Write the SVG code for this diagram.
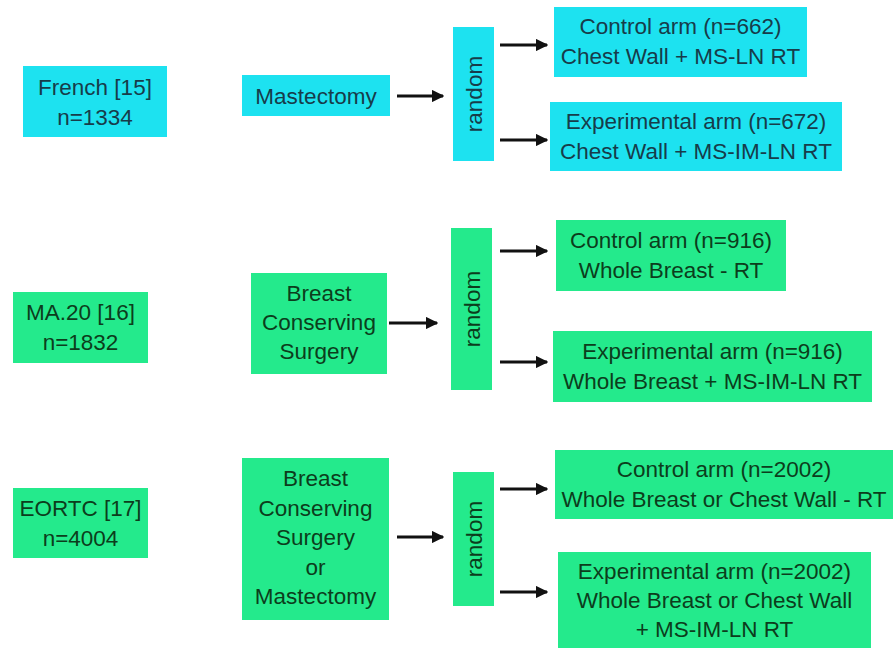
<svg xmlns="http://www.w3.org/2000/svg" width="896" height="650" viewBox="0 0 896 650">
<defs>
<marker id="ah" viewBox="0 0 10 10" refX="9" refY="5" markerWidth="4.2" markerHeight="4.2" orient="auto" markerUnits="strokeWidth"><path d="M0,0 L10,5 L0,10 z" fill="#111"/></marker>
</defs>
<style>
text{font-family:"Liberation Sans",Arial,sans-serif;font-size:22.5px;text-anchor:middle}
.c{fill:#1de2f0}
.g{fill:#24ea8c}
.tc{fill:#173c4a}
.tg{fill:#0c3d1c}
.ar{stroke:#111;stroke-width:3;fill:none;marker-end:url(#ah)}
</style>
<rect width="896" height="650" fill="#fff"/>
<g id="french"><rect class="c" x="23" y="66" width="144" height="71"/><text class="tc"><tspan x="95" y="94.5">French [15]</tspan><tspan x="95" y="124.5">n=1334</tspan></text></g>
<g id="mastectomy1"><rect class="c" x="242" y="75" width="148" height="41"/><text class="tc" x="316" y="103.5">Mastectomy</text></g>
<g id="random1"><rect class="c" x="453" y="27" width="41" height="134"/><text class="tc" x="473.5" y="102" transform="rotate(-90 473.5 94)">random</text></g>
<g id="control1"><rect class="c" x="554" y="7" width="253" height="70"/><text class="tc"><tspan x="680.5" y="34">Control arm (n=662)</tspan><tspan x="680.5" y="64">Chest Wall + MS-LN RT</tspan></text></g>
<g id="exp1"><rect class="c" x="550" y="102" width="292" height="69"/><text class="tc"><tspan x="696" y="129">Experimental arm (n=672)</tspan><tspan x="696" y="159">Chest Wall + MS-IM-LN RT</tspan></text></g>

<g id="ma20"><rect class="g" x="13" y="292" width="135" height="71"/><text class="tg"><tspan x="80.5" y="320">MA.20 [16]</tspan><tspan x="80.5" y="350">n=1832</tspan></text></g>
<g id="bcs2"><rect class="g" x="251" y="273" width="136" height="101"/><text class="tg"><tspan x="319" y="301">Breast</tspan><tspan x="319" y="330">Conserving</tspan><tspan x="319" y="359">Surgery</tspan></text></g>
<g id="random2"><rect class="g" x="451" y="228" width="41" height="162"/><text class="tg" x="471.5" y="317" transform="rotate(-90 471.5 309)">random</text></g>
<g id="control2"><rect class="g" x="556" y="220" width="230" height="71"/><text class="tg"><tspan x="671" y="248">Control arm (n=916)</tspan><tspan x="671" y="278">Whole Breast - RT</tspan></text></g>
<g id="exp2"><rect class="g" x="553" y="331" width="319" height="71"/><text class="tg"><tspan x="712.5" y="359">Experimental arm (n=916)</tspan><tspan x="712.5" y="389">Whole Breast + MS-IM-LN RT</tspan></text></g>

<g id="eortc"><rect class="g" x="13" y="488" width="135" height="70"/><text class="tg"><tspan x="80.5" y="516">EORTC [17]</tspan><tspan x="80.5" y="546">n=4004</tspan></text></g>
<g id="bcsm3"><rect class="g" x="242" y="458" width="147" height="162"/><text class="tg"><tspan x="315.5" y="486">Breast</tspan><tspan x="315.5" y="515.5">Conserving</tspan><tspan x="315.5" y="545">Surgery</tspan><tspan x="315.5" y="574.5">or</tspan><tspan x="315.5" y="604">Mastectomy</tspan></text></g>
<g id="random3"><rect class="g" x="453" y="472" width="41" height="134"/><text class="tg" x="473.5" y="547" transform="rotate(-90 473.5 539)">random</text></g>
<g id="control3"><rect class="g" x="555" y="450" width="338" height="69"/><text class="tg"><tspan x="724" y="477">Control arm (n=2002)</tspan><tspan x="724" y="507">Whole Breast or Chest Wall - RT</tspan></text></g>
<g id="exp3"><rect class="g" x="558" y="552" width="313" height="96"/><text class="tg"><tspan x="714.5" y="579">Experimental arm (n=2002)</tspan><tspan x="714.5" y="608">Whole Breast or Chest Wall</tspan><tspan x="714.5" y="637">+ MS-IM-LN RT</tspan></text></g>

<g id="connectors">
<line class="ar" x1="397" y1="96" x2="443" y2="96"/>
<line class="ar" x1="500" y1="45" x2="547" y2="45"/>
<line class="ar" x1="500" y1="140" x2="547" y2="140"/>
<line class="ar" x1="389" y1="323" x2="437" y2="323"/>
<line class="ar" x1="500" y1="251" x2="547" y2="251"/>
<line class="ar" x1="500" y1="362" x2="547" y2="362"/>
<line class="ar" x1="397" y1="537" x2="443" y2="537"/>
<line class="ar" x1="500" y1="489" x2="547" y2="489"/>
<line class="ar" x1="500" y1="592" x2="547" y2="592"/>
</g>
</svg>
